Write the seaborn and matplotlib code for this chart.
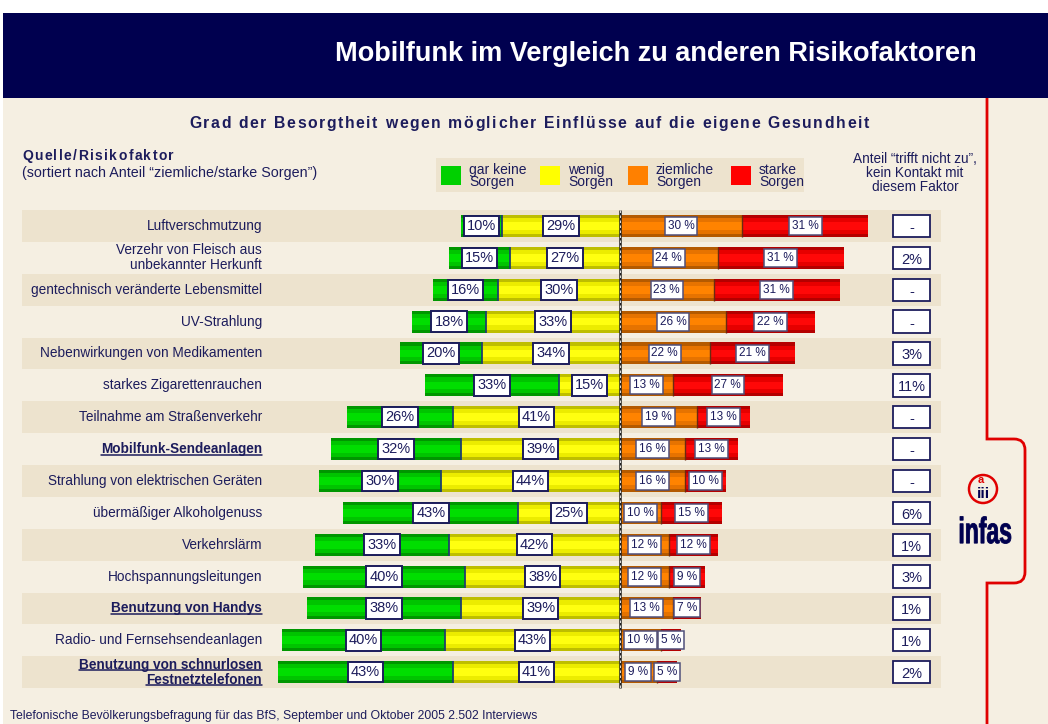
import pandas as pd
import matplotlib
matplotlib.use("Agg")
import matplotlib.pyplot as plt
import matplotlib.transforms as mtransforms
from matplotlib.patches import Rectangle, Circle
from matplotlib.path import Path
from matplotlib.patches import PathPatch
from matplotlib.textpath import TextPath
from matplotlib.font_manager import FontProperties
import seaborn as sns

# --- data ---------------------------------------------------------------
factors = [
    "Luftverschmutzung",
    "Verzehr von Fleisch aus\nunbekannter Herkunft",
    "gentechnisch veränderte Lebensmittel",
    "UV-Strahlung",
    "Nebenwirkungen von Medikamenten",
    "starkes Zigarettenrauchen",
    "Teilnahme am Straßenverkehr",
    "Mobilfunk-Sendeanlagen",
    "Strahlung von elektrischen Geräten",
    "übermäßiger Alkoholgenuss",
    "Verkehrslärm",
    "Hochspannungsleitungen",
    "Benutzung von Handys",
    "Radio- und Fernsehsendeanlagen",
    "Benutzung von schnurlosen\nFestnetztelefonen",
]
highlight = [False, False, False, False, False, False, False, True,
             False, False, False, False, True, False, True]
gar_keine = [10, 15, 16, 18, 20, 33, 26, 32, 30, 43, 33, 40, 38, 40, 43]
wenig = [29, 27, 30, 33, 34, 15, 41, 39, 44, 25, 42, 38, 39, 43, 41]
ziemlich = [30, 24, 23, 26, 22, 13, 19, 16, 16, 10, 12, 12, 13, 10, 9]
stark = [31, 31, 31, 22, 21, 27, 13, 13, 10, 15, 12, 9, 7, 5, 5]
trifft_nicht = ["-", "2%", "-", "-", "3%", "11%", "-", "-", "-", "6%",
                "1%", "3%", "1%", "1%", "2%"]
legend_labels = ["gar keine\nSorgen", "wenig\nSorgen", "ziemliche\nSorgen", "starke\nSorgen"]

df = pd.DataFrame({"faktor": factors, "g": gar_keine, "w": wenig,
                   "z": ziemlich, "s": stark})
df["left_all"] = -(df["g"] + df["w"])
df["left_w"] = -df["w"]
df["right_all"] = df["z"] + df["s"]
df["right_z"] = df["z"]

# --- style --------------------------------------------------------------
sns.set_style("white")
plt.rcParams["font.family"] = ["Liberation Sans", "DejaVu Sans"]

NAVY = "#00004F"
TXT = "#1C1C5C"
BEIGE = "#F5EFE2"
BAND = "#EDE3CE"
RED_LINE = "#E00000"

shades = {
    "green": ("#009600", "#00C400", "#00DE00"),
    "yellow": ("#BEBE00", "#ECEC00", "#FFFF10"),
    "orange": ("#B45A00", "#E67300", "#FF8300"),
    "red": ("#B40000", "#E60000", "#FF0808"),
}

PX = 4.07      # pixels per percent
CX = 620       # pixel x of the zero line
ROW0 = 226     # pixel y of the first row
DY = 31.87     # pixel row spacing

fig = plt.figure(figsize=(10.48, 7.24), dpi=100)
fig.patch.set_facecolor("white")
renderer = fig.canvas.get_renderer()

deco = fig.add_axes([0, 0, 1, 1])
deco.set_xlim(0, 1048)
deco.set_ylim(724, 0)
deco.axis("off")

ax = fig.add_axes([0, 0, 1, 1])
ax.set_facecolor("none")


def spaced_text(axis, x, y, s, spacing, ha="left", **kw):
    # letter-spaced text, y is the visual centre of capitals
    size = kw.get("fontsize", 10)
    prop = FontProperties(family=["Liberation Sans"], size=size,
                          weight=kw.get("fontweight", "normal"))
    base = renderer.get_text_width_height_descent("aa", prop, ismath=False)[0]
    widths = [renderer.get_text_width_height_descent("a" + ch + "a", prop, ismath=False)[0] - base
              for ch in s]
    total = sum(widths) + spacing * (len(s) - 1)
    x0 = x - total / 2 if ha == "center" else x
    yb = y + 0.36 * size * 100 / 72
    for ch, w in zip(s, widths):
        axis.text(x0, yb, ch, ha="left", va="baseline", **kw)
        x0 += w + spacing


# background + header
deco.add_patch(Rectangle((3, 98), 1045, 626, fc=BEIGE, ec="none"))
deco.add_patch(Rectangle((3, 13), 1045, 85, fc=NAVY, ec="none"))
deco.text(656, 54, "Mobilfunk im Vergleich zu anderen Risikofaktoren",
          ha="center", va="center", color="white", fontsize=19.5,
          fontweight="bold")
spaced_text(deco, 529, 122,
            "Grad der Besorgtheit wegen möglicher Einflüsse auf die eigene Gesundheit",
            1.6, ha="center", color=TXT, fontsize=11.3, fontweight="bold")
spaced_text(deco, 22, 155, "Quelle/Risikofaktor", 1.4, color=TXT,
            fontsize=10, fontweight="bold")
deco.text(22, 173, "(sortiert nach Anteil \u201cziemliche/starke Sorgen\u201d)",
          ha="left", va="center", color=TXT, fontsize=10.3)
deco.text(915, 173, "Anteil \u201ctrifft nicht zu\u201d,\nkein Kontakt mit\ndiesem Faktor",
          ha="center", va="center", color=TXT, fontsize=9.8, linespacing=1.0)

# legend
deco.add_patch(Rectangle((436, 158), 368, 34, fc=BAND, ec="none"))
leg_x = [441, 540, 628, 731]
leg_c = ["#00D000", "#FFFF00", "#FF8000", "#FF0000"]
for lx, lc, lab in zip(leg_x, leg_c, legend_labels):
    deco.add_patch(Rectangle((lx, 166), 20, 19, fc=lc, ec="none"))
    deco.text(lx + 28, 176, lab, ha="left", va="center", color=TXT,
              fontsize=10, linespacing=0.88)

# footer
deco.text(10, 716, "Telefonische Bevölkerungsbefragung für das BfS, September und Oktober 2005 2.502 Interviews",
          ha="left", va="center", color=TXT, fontsize=8.8)

# red bracket line + logo
verts = [(987, 98), (987, 439), (1014, 439), (1025, 439), (1025, 450),
         (1025, 572), (1025, 583), (1014, 583), (987, 583), (987, 724)]
codes = [Path.MOVETO, Path.LINETO, Path.LINETO, Path.CURVE3, Path.CURVE3,
         Path.LINETO, Path.CURVE3, Path.CURVE3, Path.LINETO, Path.LINETO]
deco.add_patch(PathPatch(Path(verts, codes), fc="none", ec=RED_LINE, lw=2))
deco.add_patch(Circle((983, 489), 14, fc="none", ec=RED_LINE, lw=1.8))
deco.text(983, 494, "iii", ha="center", va="center", color=NAVY,
          fontsize=11, fontweight="bold")
deco.text(981, 480, "a", ha="center", va="center", color=RED_LINE,
          fontsize=8, fontweight="bold")
logo = TextPath((0, 0), "infas", size=20,
                prop=FontProperties(family="Liberation Sans", weight="bold"))
lb = logo.get_extents()
logo_tf = (mtransforms.Affine2D().translate(-(lb.x0 + lb.x1) / 2, -(lb.y0 + lb.y1) / 2)
           .scale(51 / lb.width, -27 / lb.height).translate(985.5, 530))
deco.add_patch(PathPatch(logo_tf.transform_path(logo), fc=NAVY, ec=NAVY, lw=0.6))

# row bands
for i in range(len(factors)):
    if i % 2 == 0:
        ax.axhspan(i - 0.5, i + 0.5, xmin=22 / 1048, xmax=941 / 1048,
                   color=BAND, lw=0, zorder=0)

# stacked bars, each drawn in three shades for the tube-like look
layers = [("left_all", "green"), ("left_w", "yellow"),
          ("right_all", "red"), ("right_z", "orange")]
for col, cname in layers:
    for h, shade in zip((0.69, 0.5, 0.24), shades[cname]):
        sns.barplot(data=df, x=col, y="faktor", order=factors, orient="h",
                    color=shade, saturation=1, width=h, errorbar=None,
                    linewidth=0, ax=ax, zorder=2)

n = len(factors)
ys = list(range(n))
ax.vlines(df["left_w"], [y - 0.345 for y in ys], [y + 0.345 for y in ys],
          color="#1F3F6F", lw=1.3, zorder=3)
ax.vlines(df["z"], [y - 0.345 for y in ys], [y + 0.345 for y in ys],
          color="#6A2A10", lw=1.0, zorder=3)
ax.vlines(0, -0.5, n - 0.5, color="#222222", lw=1.8, zorder=4)
ax.vlines(0, -0.5, n - 0.5, color="white", lw=0.6, linestyle=(0, (3, 3)), zorder=5)

box_l = dict(boxstyle="square,pad=0.22", fc="white", ec=TXT, lw=1.4)
box_r = dict(boxstyle="square,pad=0.25", fc="white", ec="#50507A", lw=1.1)
for i, row in df.iterrows():
    ax.text(-(row["w"] + row["g"] / 2), i, f"{row['g']}%", ha="center",
            va="center", fontsize=10.5, color=TXT, bbox=box_l, zorder=6)
    ax.text(-row["w"] / 2, i, f"{row['w']}%", ha="center",
            va="center", fontsize=10.5, color=TXT, bbox=box_l, zorder=6)
    ax.text(row["z"] / 2, i, f"{row['z']} %", ha="center",
            va="center", fontsize=8.5, color=TXT, bbox=box_r, zorder=6)
    ax.text(row["z"] + row["s"] / 2, i, f"{row['s']} %", ha="center",
            va="center", fontsize=8.5, color=TXT, bbox=box_r, zorder=6)
    ax.add_patch(Rectangle(((893 - CX) / PX, i - 0.35), 37 / PX, 0.7,
                           fc="white", ec=TXT, lw=1.3, zorder=6))
    ax.text((911.5 - CX) / PX, i + 0.06, trifft_nicht[i], ha="center",
            va="center", fontsize=10.5, color=TXT, zorder=7)

# row labels
trans = mtransforms.blended_transform_factory(deco.transData, ax.transData)
underline_texts = []
for i, (lab, hl) in enumerate(zip(factors, highlight)):
    lines = lab.split("\n")
    for k, line in enumerate(lines):
        yy = i + (k - (len(lines) - 1) / 2) * 0.47
        t = ax.text(262, yy, line, transform=trans, ha="right", va="center",
                    fontsize=9.8, color=TXT,
                    fontweight="bold" if hl else "normal", zorder=6)
        if hl:
            underline_texts.append(t)

ax.set_xlim((0 - CX) / PX, (1048 - CX) / PX)
ax.set_ylim((724 - ROW0) / DY, (0 - ROW0) / DY)
ax.axis("off")

fig.canvas.draw()
inv = ax.transData.inverted()
for t in underline_texts:
    bb = t.get_window_extent(renderer)
    (x0, y0), (x1, _) = inv.transform([(bb.x0, bb.y0 + 1.5), (bb.x1, bb.y0)])
    ax.plot([x0, x1], [y0, y0], color=TXT, lw=1.1, zorder=6)

ax.set_xlim((0 - CX) / PX, (1048 - CX) / PX)
ax.set_ylim((724 - ROW0) / DY, (0 - ROW0) / DY)
fig.savefig("out.png", dpi=100, facecolor=fig.get_facecolor())
